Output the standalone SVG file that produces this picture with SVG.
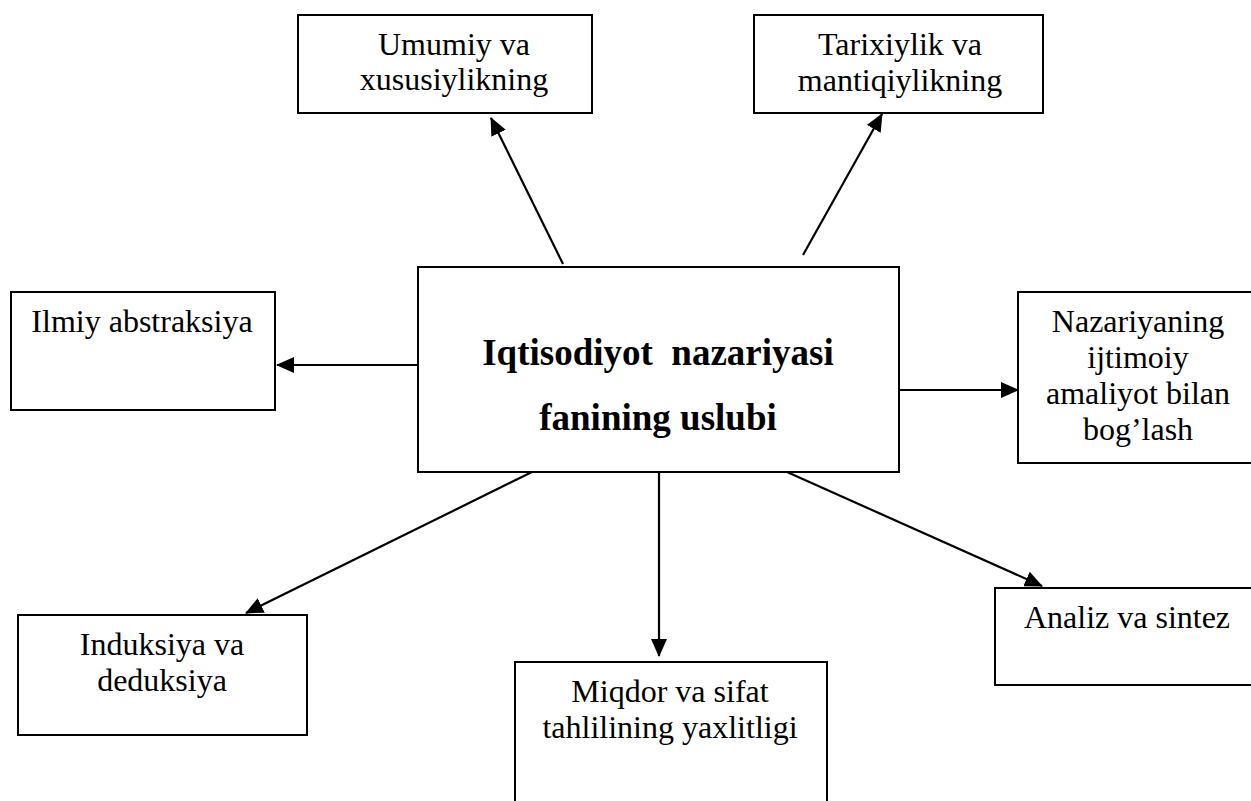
<svg xmlns="http://www.w3.org/2000/svg" width="1251" height="801" viewBox="0 0 1251 801">
<style>
.box{fill:#fff;stroke:#000;stroke-width:2}
.t{font-family:"Liberation Serif","Times New Roman",serif;font-size:32px;fill:#000;text-anchor:middle}
.tb{font-family:"Liberation Serif","Times New Roman",serif;font-size:37px;font-weight:bold;fill:#000;text-anchor:middle;white-space:pre}
.c{stroke:#000;stroke-width:2.2;fill:none;marker-end:url(#ah)}
</style>
<defs>
<marker id="ah" markerUnits="userSpaceOnUse" markerWidth="18" markerHeight="16" viewBox="0 0 18 16" refX="17" refY="8" orient="auto">
<path d="M0,0 L18,8 L0,16 Z" fill="#000"/>
</marker>
</defs>
<rect width="1251" height="801" fill="#fff"/>
<g id="connectors">
<line class="c" x1="563" y1="264" x2="491" y2="118"/>
<line class="c" x1="803" y1="255" x2="882" y2="114"/>
<line class="c" x1="418" y1="365" x2="277" y2="365"/>
<line class="c" x1="899" y1="390" x2="1018" y2="390"/>
<line class="c" x1="532" y1="472" x2="246" y2="613"/>
<line class="c" x1="659" y1="472" x2="659" y2="656"/>
<line class="c" x1="787" y1="472" x2="1042" y2="586"/>
</g>
<g id="node-center">
<rect class="box" x="418" y="267" width="481" height="205"/>
<text class="tb" x="658" y="365">Iqtisodiyot  nazariyasi</text>
<text class="tb" x="658" y="430">fanining uslubi</text>
</g>
<g id="node-umumiy">
<rect class="box" x="298" y="15" width="294" height="98"/>
<text class="t" x="454" y="55">Umumiy va</text>
<text class="t" x="454" y="90">xususiylikning</text>
</g>
<g id="node-tarixiylik">
<rect class="box" x="754" y="15" width="289" height="98"/>
<text class="t" x="900" y="55">Tarixiylik va</text>
<text class="t" x="900" y="91">mantiqiylikning</text>
</g>
<g id="node-ilmiy">
<rect class="box" x="11" y="292" width="264" height="118"/>
<text class="t" x="142" y="332">Ilmiy abstraksiya</text>
</g>
<g id="node-nazariyaning">
<rect class="box" x="1018" y="292" width="250" height="171"/>
<text class="t" x="1138" y="332">Nazariyaning</text>
<text class="t" x="1138" y="368">ijtimoiy</text>
<text class="t" x="1138" y="404">amaliyot bilan</text>
<text class="t" x="1138" y="440">bog’lash</text>
</g>
<g id="node-induksiya">
<rect class="box" x="18" y="615" width="289" height="120"/>
<text class="t" x="162" y="655">Induksiya va</text>
<text class="t" x="162" y="691">deduksiya</text>
</g>
<g id="node-miqdor">
<rect class="box" x="515" y="662" width="312" height="160"/>
<text class="t" x="670" y="702">Miqdor va sifat</text>
<text class="t" x="670" y="738">tahlilining yaxlitligi</text>
</g>
<g id="node-analiz">
<rect class="box" x="995" y="588" width="270" height="97"/>
<text class="t" x="1127" y="628">Analiz va sintez</text>
</g>
</svg>
